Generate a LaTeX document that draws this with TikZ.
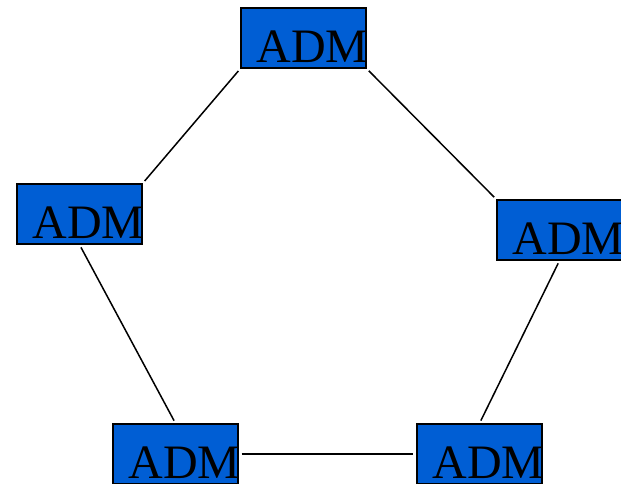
\documentclass[tikz,border=0pt]{standalone}
\usepackage{fontspec}
\setmainfont{Liberation Serif}
\definecolor{admblue}{RGB}{0,94,212}
\tikzset{
  adm/.style={draw=black, line width=1.3pt, fill=admblue, rectangle,
    minimum width=125pt, minimum height=60pt, inner sep=0pt,
    label={[anchor=base west, inner sep=0pt, xshift=16pt, yshift=6pt,
      font=\fontsize{48}{48}\selectfont]south west:ADM}},
  link/.style={draw=black, line width=1.5pt, shorten >=3pt, shorten <=3pt}
}
\begin{document}
\begin{tikzpicture}[x=1pt, y=-1pt]
  \useasboundingbox (0,0) rectangle (621,484);
  \node[adm] (top)   at (303.5,38) {};
  \node[adm] (left)  at (79.5,214) {};
  \node[adm] (right) at (559.5,230) {};
  \node[adm] (bl)    at (175.5,454) {};
  \node[adm] (br)    at (479.5,454) {};
  \draw[link] (top.south west) -- (left.north east);
  \draw[link] (top.south east) -- (right.north west);
  \draw[link] (left.south) -- (bl.north);
  \draw[link] (right.south) -- (br.north);
  \draw[link] (bl.east) -- (br.west);
\end{tikzpicture}
\end{document}
